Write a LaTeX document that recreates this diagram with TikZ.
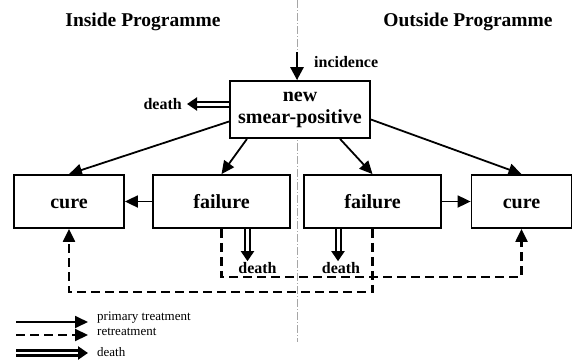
\documentclass[tikz,border=0pt]{standalone}
\usepackage{fontspec}
\setmainfont{Liberation Serif}
\usetikzlibrary{arrows.meta}

\newcommand{\stagefont}{\bfseries\fontsize{20}{22}\selectfont}
\newcommand{\titlefont}{\bfseries\fontsize{19.5}{22}\selectfont}
\newcommand{\notefont}{\bfseries\fontsize{16}{18}\selectfont}
\newcommand{\keyfont}{\fontsize{13}{14}\selectfont}

\begin{document}
\begin{tikzpicture}[x=1pt,y=-1pt,
    box/.style={draw,line width=1.8pt,fill=white,inner sep=0pt,minimum height=53pt,align=center,font=\stagefont},
    stage/.style={box,text height=14pt,text depth=0pt},
    primary/.style={-{Triangle[length=13pt,width=12pt]},line width=1.8pt},
    retreat/.style={primary,dash pattern=on 9pt off 5pt,line width=2.2pt},
    dies/.style={double,double distance=3pt,line width=2pt,-{Triangle[length=10pt,width=13pt]}},
    note/.style={font=\notefont,inner sep=1pt},
    key/.style={font=\keyfont,anchor=west,inner sep=0pt}]
        \useasboundingbox (0,0) rectangle (573,364);
        % divider between the two programmes
        \draw[gray!70,line width=0.5pt,dash pattern=on 8pt off 2pt on 1pt off 2pt](297,0)--(297,342);
        \node[font=\titlefont](inside) at (143,22){Inside Programme};
        \node[font=\titlefont](outside) at (468,22){Outside Programme};

        \node[box,minimum width=140pt,minimum height=57pt](smear) at (300,109.5){new\\smear-positive};
        \node[stage,minimum width=110pt](cureL) at (69,201.5){cure};
        \node[stage,minimum width=137pt](failL) at (221.5,201.5){failure};
        \node[stage,minimum width=137pt](failR) at (372.5,201.5){failure};
        \node[stage,minimum width=100pt](cureR) at (521.5,201.5){cure};

        % incidence and death of new cases
        \coordinate (inc) at (297,52);
        \node[note,anchor=west](incL) at (313,62){incidence};
        \draw[-{Triangle[length=13pt,width=13pt]},line width=2.8pt](inc)--(inc |- smear.north);
        \node[note,anchor=east,inner sep=5pt](deathS) at (187,104){death};
        \draw[dies](smear.west |- deathS)--(deathS.east);

        % primary treatment
        \draw[primary]([yshift=-12pt]smear.west)--(cureL.north);
        \draw[primary]([xshift=-53pt]smear.south)--(failL.north);
        \draw[primary]([xshift=40pt]smear.south)--(failR.north);
        \draw[primary]([yshift=-10pt]smear.east)--(cureR.north);
        \draw[primary](failL.west)--(cureL.east);
        \draw[primary](failR.east)--(cureR.west);

        % deaths after failure
        \node[note](deathL) at (257.5,268){death};
        \node[note](deathR) at (341,268){death};
        \draw[dies]([xshift=26pt]failL.south)--([xshift=-10pt]deathL.north);
        \draw[dies]([xshift=-34.5pt]failR.south)--([xshift=-3pt]deathR.north);

        % retreatment
        \coordinate (lowA) at (0,277);
        \coordinate (lowB) at (0,292);
        \draw[retreat](failL.south)--(failL.south |- lowA)-|(cureR.south);
        \draw[retreat](failR.south)--(failR.south |- lowB)-|(cureL.south);

        % key
        \coordinate (k1) at (16,322); \coordinate (k1e) at (88,322);
        \coordinate (k2) at (16,335); \coordinate (k2e) at (88,335);
        \coordinate (k3) at (16,353); \coordinate (k3e) at (88,353);
        \draw[primary](k1)--(k1e);
        \draw[retreat](k2)--(k2e);
        \draw[dies,line width=3pt,double distance=2pt](k3)--(k3e);
        \node[key](keyP) at (97,318){primary treatment};
        \node[key](keyR) at (97,332){retreatment};
        \node[key](keyD) at (97,352){death};
\end{tikzpicture}
\end{document}
